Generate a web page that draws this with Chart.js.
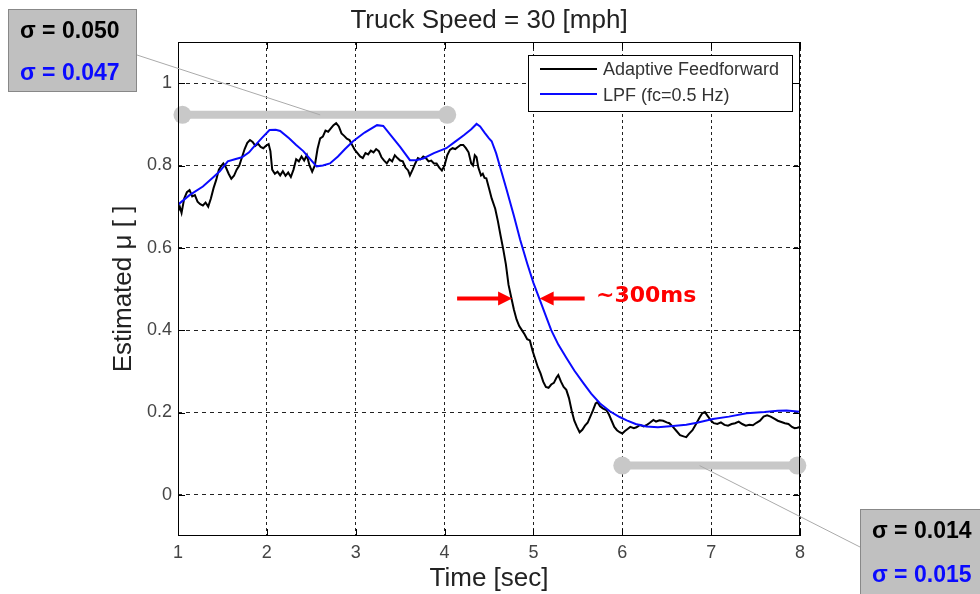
<!DOCTYPE html>
<html>
<head>
<meta charset="utf-8">
<script src="https://cdn.jsdelivr.net/npm/chart.js@4/dist/chart.umd.min.js"></script>
<style>
  html, body { margin: 0; padding: 0; background: #fff; }
  canvas { display: block; }
</style>
</head>
<body>
<canvas id="muChart" width="980" height="594"></canvas>
<script>
// Adaptive feedforward estimate of road friction (black trace)
const ffTime = [1.00,1.02,1.04,1.07,1.10,1.13,1.16,1.19,1.22,1.25,1.28,1.31,1.34,1.37,1.40,1.43,1.46,1.49,1.51,1.54,
  1.57,1.60,1.63,1.66,1.69,1.72,1.75,1.78,1.81,1.84,1.87,1.90,1.93,1.96,1.99,2.02,2.04,2.06,2.09,2.12,
  2.15,2.18,2.21,2.24,2.27,2.30,2.33,2.36,2.39,2.42,2.45,2.48,2.51,2.54,2.57,2.60,2.63,2.66,2.69,2.72,
  2.75,2.78,2.81,2.84,2.87,2.90,2.93,2.96,2.99,3.02,3.05,3.08,3.11,3.14,3.17,3.20,3.23,3.26,3.29,3.32,
  3.35,3.38,3.41,3.44,3.47,3.50,3.53,3.56,3.59,3.61,3.64,3.67,3.70,3.73,3.76,3.79,3.82,3.85,3.88,3.91,
  3.94,3.97,4.00,4.03,4.06,4.09,4.12,4.15,4.18,4.21,4.24,4.27,4.30,4.32,4.34,4.36,4.38,4.41,4.43,4.45,
  4.47,4.50,4.53,4.57,4.60,4.63,4.66,4.69,4.72,4.75,4.78,4.81,4.84,4.87,4.90,4.93,4.96,4.99,5.02,5.05,
  5.08,5.11,5.14,5.17,5.20,5.23,5.26,5.28,5.31,5.34,5.37,5.40,5.43,5.46,5.49,5.52,5.55,5.58,5.61,5.64,
  5.67,5.70,5.72,5.75,5.78,5.82,5.85,5.88,5.91,5.94,5.97,6.00,6.03,6.06,6.09,6.13,6.16,6.20,6.24,6.27,
  6.31,6.35,6.38,6.42,6.46,6.50,6.53,6.57,6.61,6.65,6.69,6.72,6.75,6.79,6.83,6.87,6.90,6.93,6.96,7.00,
  7.03,7.07,7.11,7.15,7.19,7.23,7.27,7.31,7.35,7.39,7.43,7.47,7.51,7.55,7.59,7.63,7.67,7.71,7.75,7.79,
  7.83,7.87,7.91,7.94,7.97,8.00];
const ffMu = [0.688,0.700,0.685,0.720,0.735,0.740,0.725,0.728,0.712,0.706,0.703,0.710,0.700,0.720,0.745,0.765,0.790,0.800,0.805,0.795,
  0.780,0.768,0.775,0.790,0.800,0.820,0.840,0.855,0.862,0.857,0.848,0.853,0.845,0.842,0.848,0.852,0.835,0.790,0.780,0.785,
  0.776,0.786,0.775,0.783,0.772,0.790,0.815,0.810,0.822,0.812,0.825,0.800,0.785,0.800,0.840,0.866,0.870,0.885,0.882,0.890,
  0.898,0.903,0.895,0.878,0.872,0.865,0.862,0.850,0.838,0.830,0.822,0.818,0.830,0.827,0.836,0.832,0.840,0.835,0.820,0.812,
  0.805,0.815,0.810,0.825,0.818,0.812,0.810,0.795,0.788,0.776,0.790,0.805,0.818,0.815,0.822,0.818,0.810,0.812,0.805,0.805,
  0.795,0.788,0.800,0.825,0.838,0.842,0.840,0.845,0.850,0.850,0.842,0.832,0.805,0.800,0.825,0.820,0.795,0.776,0.780,0.770,
  0.769,0.745,0.720,0.695,0.665,0.630,0.597,0.560,0.510,0.480,0.450,0.426,0.410,0.400,0.390,0.378,0.375,0.350,0.330,0.310,
  0.295,0.275,0.262,0.260,0.268,0.272,0.285,0.291,0.275,0.262,0.255,0.235,0.205,0.180,0.165,0.152,0.158,0.168,0.175,0.190,
  0.205,0.222,0.225,0.215,0.210,0.206,0.195,0.180,0.165,0.157,0.152,0.149,0.155,0.160,0.165,0.162,0.164,0.170,0.166,0.169,
  0.175,0.182,0.178,0.181,0.180,0.176,0.174,0.165,0.155,0.145,0.142,0.140,0.148,0.157,0.172,0.188,0.198,0.201,0.192,0.180,
  0.174,0.172,0.176,0.170,0.168,0.172,0.174,0.178,0.172,0.168,0.170,0.169,0.175,0.180,0.190,0.193,0.190,0.185,0.180,0.177,
  0.174,0.172,0.165,0.162,0.163,0.165];

// Low-pass filtered estimate, fc = 0.5 Hz (blue trace)
const lpfTime = [1.00,1.13,1.28,1.40,1.47,1.56,1.64,1.72,1.80,1.84,1.94,2.03,2.10,2.15,2.25,2.33,2.41,2.49,2.56,2.63,
  2.71,2.80,2.88,2.97,3.10,3.24,3.31,3.40,3.50,3.61,3.68,3.76,3.88,4.02,4.12,4.22,4.30,4.36,4.40,4.45,
  4.50,4.53,4.58,4.62,4.70,4.78,4.85,4.93,5.00,5.07,5.13,5.20,5.28,5.37,5.46,5.56,5.65,5.75,5.86,5.97,
  6.05,6.15,6.27,6.40,6.57,6.72,6.84,7.02,7.20,7.40,7.60,7.75,7.85,8.00];
const lpfMu = [0.705,0.728,0.749,0.772,0.786,0.810,0.815,0.820,0.832,0.842,0.866,0.886,0.887,0.884,0.866,0.850,0.835,0.815,0.798,0.800,
  0.805,0.822,0.840,0.859,0.880,0.898,0.896,0.872,0.845,0.813,0.813,0.817,0.830,0.842,0.858,0.874,0.888,0.901,0.895,0.880,
  0.866,0.859,0.830,0.800,0.740,0.678,0.620,0.562,0.515,0.475,0.440,0.400,0.365,0.333,0.302,0.272,0.246,0.222,0.203,0.189,
  0.181,0.172,0.166,0.164,0.167,0.170,0.175,0.184,0.190,0.198,0.201,0.204,0.205,0.202];

const xTicks = [1, 2, 3, 4, 5, 6, 7, 8];
const yTicks = [0, 0.2, 0.4, 0.6, 0.8, 1];

// windows used for the standard deviations
const windowBefore = [1.05, 4.03];
const windowAfter = [6.0, 7.97];
const windowLevel = [0.923, 0.071];
const sigmaBefore = ['σ = 0.050', 'σ = 0.047'];
const sigmaAfter = ['σ = 0.014', 'σ = 0.015'];

// crossing times at mu = 0.477, used for the delay arrows
const delayLevel = 0.477;
const delayTimes = [4.76, 5.07];

function toPoints(ts, vs) {
  return ts.map((t, i) => ({ x: t, y: vs[i] }));
}

const BLUE = '#0a0aff';
const BAR = '#c8c8c8';
const SANS = '"Liberation Sans", Arial, sans-serif';

const overlay = {
  id: 'overlay',
  afterDraw(chart) {
    const c = chart.ctx;
    const a = chart.chartArea;
    const xs = chart.scales.x;
    const ys = chart.scales.y;
    c.save();

    // frame and inward tick marks
    c.strokeStyle = '#000';
    c.lineWidth = 1;
    c.setLineDash([]);
    c.strokeRect(a.left + 0.5, a.top + 0.5, a.right - a.left - 1, a.bottom - a.top - 1);
    c.beginPath();
    xTicks.forEach(v => {
      const px = Math.round(xs.getPixelForValue(v)) + 0.5;
      c.moveTo(px, a.bottom); c.lineTo(px, a.bottom - 7);
      c.moveTo(px, a.top); c.lineTo(px, a.top + 7);
    });
    yTicks.forEach(v => {
      const py = Math.round(ys.getPixelForValue(v)) + 0.5;
      c.moveTo(a.left, py); c.lineTo(a.left + 7, py);
      c.moveTo(a.right, py); c.lineTo(a.right - 7, py);
    });
    c.stroke();

    // title
    c.fillStyle = '#222';
    c.font = '26px ' + SANS;
    c.textAlign = 'center';
    c.textBaseline = 'alphabetic';
    c.fillText('Truck Speed = 30 [mph]', (a.left + a.right) / 2, 28);

    // legend
    c.fillStyle = '#fff';
    c.fillRect(528, 55, 264, 56);
    c.strokeStyle = '#000';
    c.strokeRect(528.5, 55.5, 264, 56);
    c.lineWidth = 2;
    c.beginPath(); c.moveTo(540, 69); c.lineTo(597, 69); c.stroke();
    c.strokeStyle = BLUE;
    c.beginPath(); c.moveTo(540, 94); c.lineTo(597, 94); c.stroke();
    c.fillStyle = '#333';
    c.font = '18px ' + SANS;
    c.textAlign = 'left';
    c.textBaseline = 'middle';
    c.fillText('Adaptive Feedforward', 603, 70);
    c.fillText('LPF (fc=0.5 Hz)', 603, 96);

    // connectors from the sigma boxes to their windows
    c.strokeStyle = '#aaa';
    c.lineWidth = 1;
    c.beginPath();
    c.moveTo(137, 55);
    c.lineTo(xs.getPixelForValue(2.6), ys.getPixelForValue(windowLevel[0]));
    c.moveTo(xs.getPixelForValue(6.87), ys.getPixelForValue(windowLevel[1]));
    c.lineTo(860, 547);
    c.stroke();

    // sigma boxes
    c.fillStyle = '#c0c0c0';
    c.strokeStyle = '#888';
    c.fillRect(8, 9, 129, 83);
    c.strokeRect(8.5, 9.5, 128, 82);
    c.fillRect(860, 509, 130, 100);
    c.strokeRect(860.5, 509.5, 130, 100);
    c.font = 'bold 23px ' + SANS;
    c.fillStyle = '#000';
    c.fillText(sigmaBefore[0], 20, 32);
    c.fillText(sigmaAfter[0], 872, 532);
    c.fillStyle = BLUE;
    c.fillText(sigmaBefore[1], 20, 74);
    c.fillText(sigmaAfter[1], 872, 576);

    // delay arrows
    const yA = ys.getPixelForValue(delayLevel);
    const tipL = xs.getPixelForValue(delayTimes[0]);
    const tipR = xs.getPixelForValue(delayTimes[1]);
    c.fillStyle = '#f00';
    c.strokeStyle = '#f00';
    c.lineWidth = 4;
    c.beginPath();
    c.moveTo(tipL - 55, yA); c.lineTo(tipL - 12, yA);
    c.moveTo(tipR + 45, yA); c.lineTo(tipR + 12, yA);
    c.stroke();
    c.beginPath();
    c.moveTo(tipL, yA); c.lineTo(tipL - 14, yA - 7); c.lineTo(tipL - 14, yA + 7); c.closePath();
    c.moveTo(tipR, yA); c.lineTo(tipR + 14, yA - 7); c.lineTo(tipR + 14, yA + 7); c.closePath();
    c.fill();
    c.font = 'bold 22px "DejaVu Sans"';
    c.fillText('~300ms', 596, yA - 2);

    c.restore();
  }
};

const ctx = document.getElementById('muChart').getContext('2d');
new Chart(ctx, {
  type: 'line',
  data: {
    datasets: [
      { label: 'LPF (fc=0.5 Hz)', data: toPoints(lpfTime, lpfMu), borderColor: BLUE, borderWidth: 2, pointRadius: 0, tension: 0, order: 1 },
      { label: 'Adaptive Feedforward', data: toPoints(ffTime, ffMu), borderColor: '#000', borderWidth: 2, pointRadius: 0, tension: 0, order: 2 },
      { label: 'before', data: toPoints(windowBefore, [windowLevel[0], windowLevel[0]]), borderColor: BAR, borderWidth: 8,
        pointRadius: 9, pointBackgroundColor: BAR, pointBorderWidth: 0, clip: false, order: 3 },
      { label: 'after', data: toPoints(windowAfter, [windowLevel[1], windowLevel[1]]), borderColor: BAR, borderWidth: 8,
        pointRadius: 9, pointBackgroundColor: BAR, pointBorderWidth: 0, clip: false, order: 3 }
    ]
  },
  options: {
    responsive: false,
    animation: false,
    events: [],
    layout: { padding: { top: 42, right: 180, bottom: 0, left: 0 } },
    plugins: {
      legend: { display: false },
      tooltip: { enabled: false }
    },
    scales: {
      x: {
        type: 'linear',
        min: 1,
        max: 8,
        afterBuildTicks: s => { s.ticks = xTicks.map(v => ({ value: v })); },
        afterFit: s => { s.height = 58; },
        grid: { color: '#222', lineWidth: 1, drawTicks: false },
        border: { display: false, dash: [3, 3] },
        ticks: { padding: 6, color: '#444', font: { family: SANS, size: 18 }, callback: v => String(v) },
        title: { display: true, text: 'Time [sec]', color: '#222', font: { family: SANS, size: 26 }, padding: { top: 0, bottom: 0 } }
      },
      y: {
        type: 'linear',
        min: -0.1,
        max: 1.1,
        afterBuildTicks: s => { s.ticks = yTicks.map(v => ({ value: v })); },
        afterFit: s => { s.width = 178; },
        grid: { color: '#222', lineWidth: 1, drawTicks: false },
        border: { display: false, dash: [4, 4] },
        ticks: { padding: 6, color: '#444', font: { family: SANS, size: 18 }, callback: v => String(Math.round(v * 10) / 10) },
        title: { display: true, text: 'Estimated μ [ ]', color: '#222', font: { family: SANS, size: 26 }, padding: { top: 108, bottom: 0 } }
      }
    }
  },
  plugins: [overlay]
});
</script>
</body>
</html>
